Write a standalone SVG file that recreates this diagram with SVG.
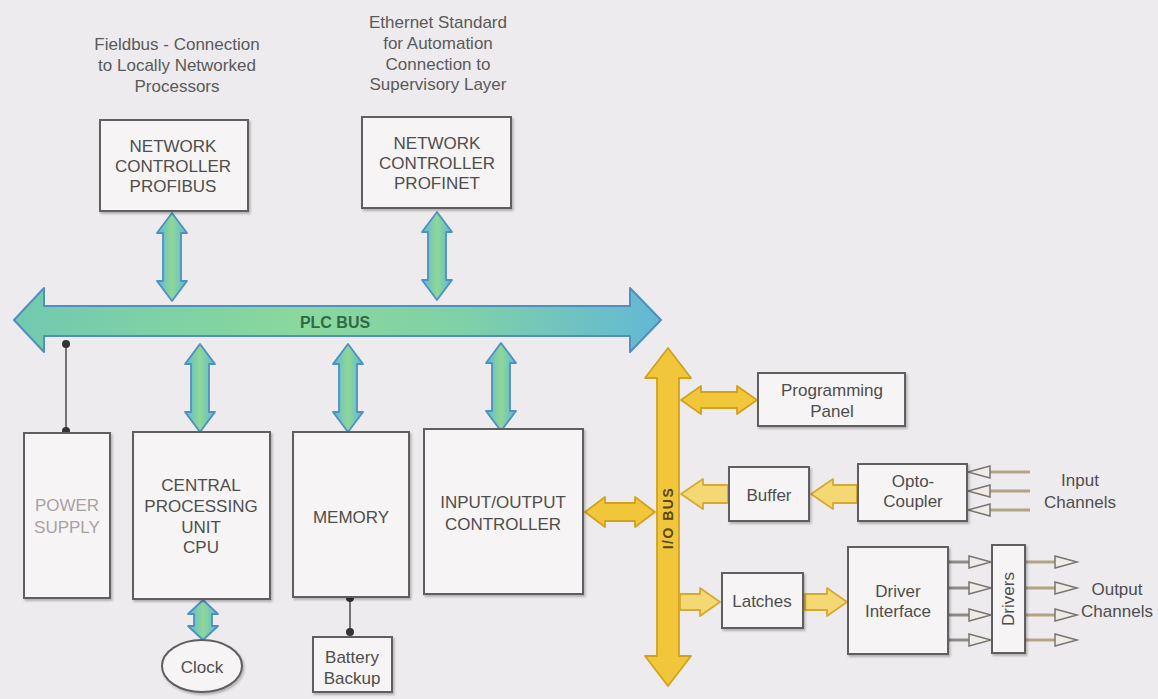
<svg xmlns="http://www.w3.org/2000/svg" width="1158" height="699" viewBox="0 0 1158 699">
<defs>
<linearGradient id="gBus" x1="0" y1="0" x2="1" y2="0">
<stop offset="0" stop-color="#72c9b0"/>
<stop offset="0.45" stop-color="#8ad89c"/>
<stop offset="0.7" stop-color="#7fd0a8"/>
<stop offset="1" stop-color="#62b8d6"/>
</linearGradient>
<linearGradient id="gV" x1="0" y1="0" x2="1" y2="0">
<stop offset="0" stop-color="#5cb6d8"/>
<stop offset="0.5" stop-color="#8fd896"/>
<stop offset="1" stop-color="#5cb6d8"/>
</linearGradient>
<path id="va88" d="M0,-44 L15,-24 L9,-24 L9,24 L15,24 L0,44 L-15,24 L-9,24 L-9,-24 L-15,-24 Z"/>
<path id="va40" d="M0,-20 L15,-6 L9,-6 L9,6 L15,6 L0,20 L-15,6 L-9,6 L-9,-6 L-15,-6 Z"/>
<filter id="sh" x="-10%" y="-10%" width="130%" height="130%">
<feDropShadow dx="1.5" dy="2" stdDeviation="1.2" flood-color="#000" flood-opacity="0.25"/>
</filter>
</defs>
<style>
.box{fill:#f7f4f5;stroke:#5e5e5e;stroke-width:2;filter:url(#sh)}
.t{font-family:"Liberation Sans",Arial,sans-serif;font-size:17px;fill:#4e4e4e;text-anchor:middle}
.ann{font-family:"Liberation Sans",Arial,sans-serif;font-size:17px;fill:#5a5a5a;text-anchor:middle}
.faint{fill:#a8a2a4}
.cy{fill:url(#gV);stroke:#4d90c4;stroke-width:1.8;stroke-linejoin:round}
.yl{fill:#f1c63a;stroke:#d3a21c;stroke-width:1.8;stroke-linejoin:round}
.yp{fill:#f4d873;stroke:#d6aa30;stroke-width:1.8;stroke-linejoin:round}
.wire{stroke:#4a4a4a;stroke-width:1.5;fill:none}
.dot{fill:#333}
.ch{stroke:#b4a284;stroke-width:3;fill:none}
.chg{stroke:#8e8a86;stroke-width:3;fill:none}
.oh{fill:#efece8;stroke:#7a7570;stroke-width:1.5}
</style>
<rect x="0" y="0" width="1158" height="699" fill="#edebee"/>

<g id="annotations">
<text class="ann" x="177" y="50">Fieldbus - Connection</text>
<text class="ann" x="177" y="71">to Locally Networked</text>
<text class="ann" x="177" y="92">Processors</text>
<text class="ann" x="438" y="28">Ethernet Standard</text>
<text class="ann" x="438" y="49">for Automation</text>
<text class="ann" x="438" y="70">Connection to</text>
<text class="ann" x="438" y="90">Supervisory Layer</text>
</g>

<g id="connectors">
<path id="plc-bus" d="M14,320 L44,288 L44,306 L630,306 L630,288 L661,320 L630,352 L630,336 L44,336 L44,352 Z" fill="url(#gBus)" stroke="#4f8fc2" stroke-width="2" stroke-linejoin="round"/>
<text x="335" y="328" font-family="Liberation Sans,Arial,sans-serif" font-size="16" font-weight="bold" fill="#2f6a48" text-anchor="middle">PLC BUS</text>
<use href="#va88" class="cy" transform="translate(172,257)"/>
<use href="#va88" class="cy" transform="translate(437,256)"/>
<use href="#va88" class="cy" transform="translate(200,388)"/>
<use href="#va88" class="cy" transform="translate(348,388)"/>
<use href="#va88" class="cy" transform="translate(501,387)"/>
<use href="#va40" class="cy" transform="translate(203,620)"/>
<line class="wire" x1="66" y1="344" x2="66" y2="431"/>
<circle class="dot" cx="66" cy="344" r="4"/>
<circle class="dot" cx="66" cy="431" r="4"/>
<line class="wire" x1="350" y1="598" x2="350" y2="632"/>
<circle class="dot" cx="350" cy="598" r="4"/>
<circle class="dot" cx="350" cy="632" r="4"/>
<path id="io-bus" class="yl" d="M668,348 L691,378 L679,378 L679,656 L691,656 L668,686 L645,656 L657,656 L657,378 L645,378 Z"/>
<text transform="translate(673,518) rotate(-90)" font-family="Liberation Sans,Arial,sans-serif" font-size="14" font-weight="bold" fill="#5a4712" text-anchor="middle" letter-spacing="1.5">I/O BUS</text>
<path class="yl" d="M585,512 L605,497 L605,503 L635,503 L635,497 L655,512 L635,527 L635,521 L605,521 L605,527 Z"/>
<path class="yl" d="M681,400 L701,386 L701,392 L737,392 L737,386 L757,400 L737,414 L737,408 L701,408 L701,414 Z"/>
<path class="yp" d="M681,494 L703,479 L703,485 L728,485 L728,503 L703,503 L703,509 Z"/>
<path class="yp" d="M811,494 L833,479 L833,485 L857,485 L857,503 L833,503 L833,509 Z"/>
<path class="yp" d="M720,602 L700,588 L700,594 L680,594 L680,610 L700,610 L700,616 Z"/>
<path class="yp" d="M847,602 L827,588 L827,594 L805,594 L805,610 L827,610 L827,616 Z"/>
<line class="ch" x1="988" y1="472" x2="1030" y2="472"/>
<line class="ch" x1="988" y1="491" x2="1030" y2="491"/>
<line class="ch" x1="988" y1="510" x2="1030" y2="510"/>
<path class="oh" d="M968,472 L990,466 L990,478 Z"/>
<path class="oh" d="M968,491 L990,485 L990,497 Z"/>
<path class="oh" d="M968,510 L990,504 L990,516 Z"/>
<line class="chg" x1="949" y1="562" x2="970" y2="562"/>
<line class="chg" x1="949" y1="588" x2="970" y2="588"/>
<line class="chg" x1="949" y1="615" x2="970" y2="615"/>
<line class="chg" x1="949" y1="640" x2="970" y2="640"/>
<path class="oh" d="M991,562 L969,556 L969,568 Z"/>
<path class="oh" d="M991,588 L969,582 L969,594 Z"/>
<path class="oh" d="M991,615 L969,609 L969,621 Z"/>
<path class="oh" d="M991,640 L969,634 L969,646 Z"/>
<line class="ch" x1="1026" y1="562" x2="1056" y2="562"/>
<line class="ch" x1="1026" y1="588" x2="1056" y2="588"/>
<line class="ch" x1="1026" y1="615" x2="1056" y2="615"/>
<line class="ch" x1="1026" y1="640" x2="1056" y2="640"/>
<path class="oh" d="M1077,562 L1055,556 L1055,568 Z"/>
<path class="oh" d="M1077,588 L1055,582 L1055,594 Z"/>
<path class="oh" d="M1077,615 L1055,609 L1055,621 Z"/>
<path class="oh" d="M1077,640 L1055,634 L1055,646 Z"/>
</g>

<g id="profibus">
<rect class="box" x="100" y="120" width="148" height="91"/>
<text class="t" x="173" y="152">NETWORK</text>
<text class="t" x="173" y="172">CONTROLLER</text>
<text class="t" x="173" y="192">PROFIBUS</text>
</g>
<g id="profinet">
<rect class="box" x="362" y="117" width="149" height="91"/>
<text class="t" x="437" y="149">NETWORK</text>
<text class="t" x="437" y="169">CONTROLLER</text>
<text class="t" x="437" y="189">PROFINET</text>
</g>
<g id="power-supply">
<rect class="box" x="24" y="433" width="86" height="165"/>
<text class="t faint" x="67" y="511">POWER</text>
<text class="t faint" x="67" y="533">SUPPLY</text>
</g>
<g id="cpu">
<rect class="box" x="133" y="432" width="137" height="167"/>
<text class="t" x="201" y="491">CENTRAL</text>
<text class="t" x="201" y="512">PROCESSING</text>
<text class="t" x="201" y="533">UNIT</text>
<text class="t" x="201" y="553">CPU</text>
</g>
<g id="clock">
<ellipse cx="202" cy="666" rx="40" ry="26" fill="#f7f4f5" stroke="#5e5e5e" stroke-width="2" filter="url(#sh)"/>
<text class="t" x="202" y="673">Clock</text>
</g>
<g id="memory">
<rect class="box" x="293" y="432" width="116" height="165"/>
<text class="t" x="351" y="523">MEMORY</text>
</g>
<g id="battery">
<rect class="box" x="313" y="637" width="79" height="55"/>
<text class="t" x="352" y="663">Battery</text>
<text class="t" x="352" y="684">Backup</text>
</g>
<g id="io-controller">
<rect class="box" x="424" y="429" width="159" height="165"/>
<text class="t" x="503" y="508">INPUT/OUTPUT</text>
<text class="t" x="503" y="530">CONTROLLER</text>
</g>
<g id="programming-panel">
<rect class="box" x="758" y="373" width="147" height="53"/>
<text class="t" x="832" y="396">Programming</text>
<text class="t" x="832" y="417">Panel</text>
</g>
<g id="buffer">
<rect class="box" x="729" y="467" width="80" height="54"/>
<text class="t" x="769" y="501">Buffer</text>
</g>
<g id="opto-coupler">
<rect class="box" x="858" y="464" width="109" height="57"/>
<text class="t" x="913" y="487">Opto-</text>
<text class="t" x="913" y="507">Coupler</text>
</g>
<g id="input-channels">
<text class="t" x="1080" y="486">Input</text>
<text class="t" x="1080" y="508">Channels</text>
</g>
<g id="latches">
<rect class="box" x="722" y="573" width="81" height="55"/>
<text class="t" x="762" y="607">Latches</text>
</g>
<g id="driver-interface">
<rect class="box" x="848" y="547" width="100" height="107"/>
<text class="t" x="898" y="597">Driver</text>
<text class="t" x="898" y="617">Interface</text>
</g>
<g id="drivers">
<rect class="box" x="992" y="545" width="33" height="108"/>
<text class="t" transform="translate(1014,599) rotate(-90)">Drivers</text>
</g>
<g id="output-channels">
<text class="t" x="1117" y="595">Output</text>
<text class="t" x="1117" y="617">Channels</text>
</g>
</svg>
